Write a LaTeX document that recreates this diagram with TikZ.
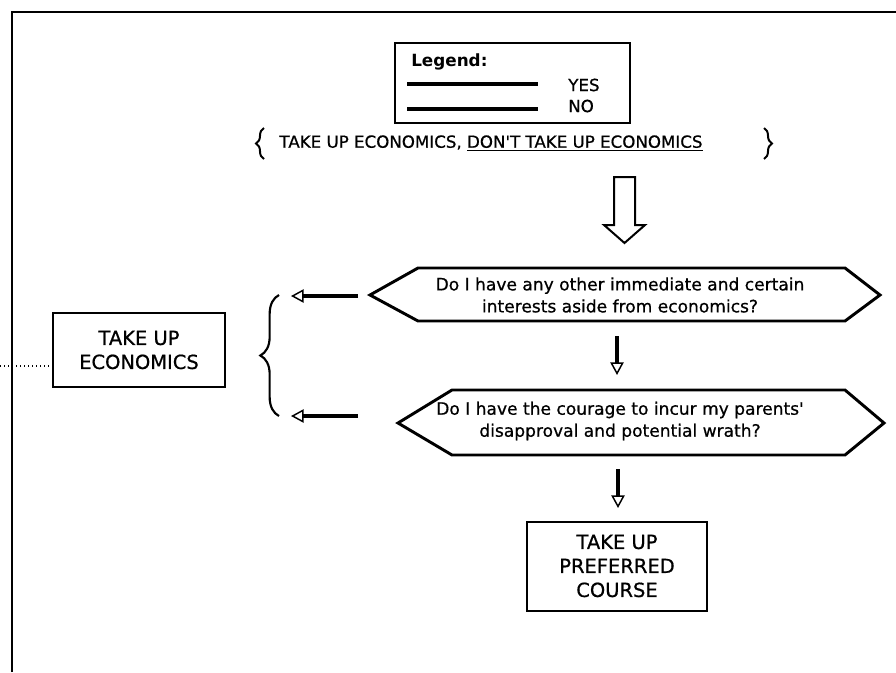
\documentclass[tikz,border=0pt]{standalone}
\usepackage{fontspec}
\setmainfont{DejaVu Sans}
\newfontfamily\scanfont[FakeBold=0.7]{DejaVu Sans}
\usetikzlibrary{arrows.meta,decorations.pathreplacing}
\begin{document}
\begin{tikzpicture}[x=0.75pt,y=-0.75pt,
  frameline/.style={line width=1.5pt},
  hexline/.style={line width=2.2pt, line join=miter},
  hextext/.style={align=center, inner sep=0pt, font=\scanfont\fontsize{12.8}{16.5}\selectfont},
  boxnode/.style={draw, line width=1.5pt, align=center, inner sep=0pt, font=\scanfont\fontsize{14.6}{18}\selectfont},
  flow/.style={line width=3.6pt, -{Triangle[open,length=9.5pt,width=10pt,line width=1.1pt]}},
  bigarrow/.style={line width=1.5pt, line join=miter},
  legline/.style={line width=3pt},
  legtext/.style={inner sep=0pt, anchor=west, font=\scanfont\fontsize{12.5}{14}\selectfont}
]
\useasboundingbox (0,0) rectangle (896,672);
% outer frame
\draw[frameline] (12,672) -- (12,12) -- (896,12);

% legend
\node[draw, line width=1.8pt, minimum width=176pt, minimum height=60pt, inner sep=0pt] (legend) at (512.5,83) {};
\node[legtext, font=\bfseries\fontsize{12.6}{14}\selectfont] (legtitle) at (411,62) {Legend:};
\coordinate (yesA) at (407,84);
\coordinate (yesB) at (538,84);
\coordinate (noA) at (407,109);
\coordinate (noB) at (538,109);
\draw[legline] (yesA) -- (yesB);
\draw[legline] (noA) -- (noB);
\node[legtext] (yes) at (568,85) {YES};
\node[legtext] (no) at (568,106) {NO};

% set of options
\node[inner sep=0pt, font=\scanfont\fontsize{12.5}{14}\selectfont] (set) at (491,143)
  {TAKE UP ECONOMICS, \underline{DON'T TAKE UP ECONOMICS}};
\draw[decorate, decoration={brace, amplitude=6pt}, line width=1.5pt] (264,159) -- (264,128);
\draw[decorate, decoration={brace, amplitude=6pt}, line width=1.5pt] (764,128) -- (764,159);

% big hollow arrow
\coordinate (ba) at (624.5,177);
\draw[bigarrow] (614,177) -- (614,225) -- (604,225) -- (624.5,243) -- (645,225) -- (635,225) -- (635,177) -- cycle;

% question 1
\node[hextext] (q1) at (620,295) {Do I have any other immediate and certain\\interests aside from economics?};
\draw[hexline] (370,295) coordinate (q1w) -- (418,268) -- (845,268) -- (880,295) -- (845,321) -- (418,321) -- cycle;

% question 2
\node[hextext] (q2) at (620,421) {Do I have the courage to incur my parents'\\disapproval and potential wrath?};
\draw[hexline] (398,423) coordinate (q2w) -- (452,390) -- (845,390) -- (884,423) -- (845,455) -- (452,455) -- cycle;

% result boxes
\node[boxnode, minimum width=129pt, minimum height=55.5pt] (econ) at (139,350) {TAKE UP\\ECONOMICS};
\node[boxnode, minimum width=135pt, minimum height=66.75pt] (pref) at (617,566) {TAKE UP\\PREFERRED\\COURSE};

% down arrows
\coordinate (d1a) at (617,336);
\coordinate (d1b) at (617,375);
\coordinate (d2a) at (618,469);
\coordinate (d2b) at (618,508);
\draw[flow] (d1a) -- (d1b);
\draw[flow] (d2a) -- (d2b);

% left arrows (yes)
\coordinate (l1a) at (358,296);
\coordinate (l1b) at (291,296);
\coordinate (l2a) at (358,416);
\coordinate (l2b) at (291,416);
\draw[flow] (l1a) -- (l1b);
\draw[flow] (l2a) -- (l2b);

% brace gathering the yes answers
\draw[decorate, decoration={brace, amplitude=14pt}, line width=1.6pt] (279,416) -- (279,295);

% dotted trace at the left
\coordinate (dot) at (0,366);
\draw[dotted, line width=1pt] (dot) -- (dot -| econ.west);
\end{tikzpicture}
\end{document}
